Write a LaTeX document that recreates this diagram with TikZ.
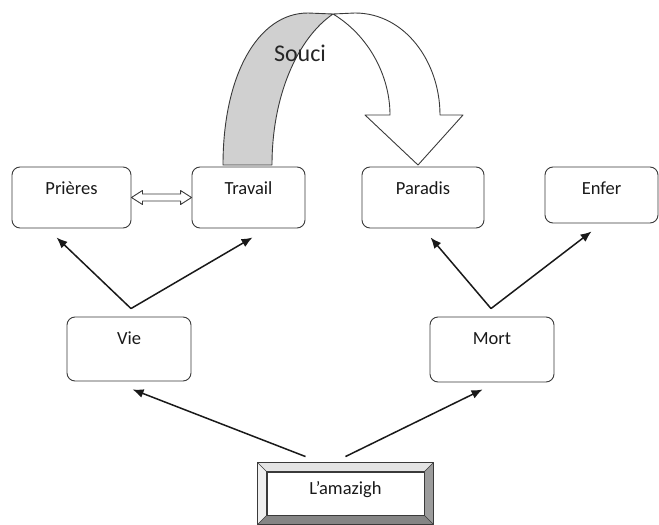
\documentclass[tikz,border=0pt]{standalone}
\usepackage{fontspec}
\setmainfont{Carlito}
\usetikzlibrary{arrows.meta,calc}
\definecolor{edge}{HTML}{3A3A3A}
\definecolor{facegray}{HTML}{D0D0D0}
\definecolor{bevellight}{HTML}{E4E4E4}
\definecolor{beveldark}{HTML}{9C9C9C}
\definecolor{bevelbottom}{HTML}{858585}
\begin{document}
\begin{tikzpicture}[x=1pt,y=-1pt,
        box/.style={draw=edge,line width=0.9pt,rounded corners=8pt,fill=white,
            inner xsep=0pt,inner ysep=7pt,text height=20pt,text depth=27pt,
            font=\fontsize{18.5}{21}\selectfont,text=black!90},
        arr/.style={-{Latex[length=11pt,width=9pt]},line width=1.5pt,draw=black!90},
        shape line/.style={draw=edge,line width=0.9pt,line join=round}]
        \useasboundingbox (0,0) rectangle (659,525);
        \path (71.5,194) node [box,anchor=base,minimum width=119pt] (pri) {Prières};
        \path (248.5,194) node [box,anchor=base,minimum width=113pt] (tra) {Travail};
        \path (423,194) node [box,anchor=base,minimum width=122pt] (par) {Paradis};
        \path (601.5,194) node [box,anchor=base,minimum width=113pt,text depth=22pt] (enf) {Enfer};
        \path (129,344) node [box,anchor=base,minimum width=124pt,text depth=30pt] (vie) {Vie};
        \path (492,344) node [box,anchor=base,minimum width=124pt,text depth=31pt] (mort) {Mort};
        \path (345.5,494) node [draw=edge,line width=0.9pt,fill=white,anchor=base,
            minimum width=157pt,inner xsep=0pt,inner ysep=0pt,text height=22pt,text depth=21pt,
            font=\fontsize{18.5}{21}\selectfont,text=black!90] (ama) {L’amazigh};
        \fill [bevellight] ($(ama.north west)+(-9,-9)$) -- ($(ama.north east)+(9,-9)$)
            -- (ama.north east) -- (ama.north west) -- cycle;
        \fill [bevellight!60] ($(ama.north west)+(-9,-9)$) -- (ama.north west)
            -- (ama.south west) -- ($(ama.south west)+(-9,9)$) -- cycle;
        \fill [beveldark] ($(ama.north east)+(9,-9)$) -- ($(ama.south east)+(9,9)$)
            -- (ama.south east) -- (ama.north east) -- cycle;
        \fill [bevelbottom] ($(ama.south west)+(-9,9)$) -- ($(ama.south east)+(9,9)$)
            -- (ama.south east) -- (ama.south west) -- cycle;
        \draw [shape line] ($(ama.north west)+(-9,-9)$) rectangle ($(ama.south east)+(9,9)$);
        \draw [shape line,line width=0.6pt] ($(ama.north west)+(-9,-9)$) -- (ama.north west)
            ($(ama.north east)+(9,-9)$) -- (ama.north east)
            ($(ama.south west)+(-9,9)$) -- (ama.south west)
            ($(ama.south east)+(9,9)$) -- (ama.south east);
        \draw [shape line] (ama.north west) rectangle (ama.south east);
        \draw [shape line,fill=white] (pri.east) -- ++(11,-7) -- ++(0,3.5) -- ($(tra.west)+(-11,-3.5)$)
            -- ++(0,-3.5) -- (tra.west) -- ++(-11,7) -- ++(0,-3.5) -- ($(pri.east)+(11,3.5)$)
            -- ++(0,3.5) -- cycle;
        \coordinate (viej) at ($(vie.north)+(2,-8)$);
        \coordinate (mortj) at ($(mort.north)+(-1,-8)$);
        \coordinate (amal) at ($(ama.north)+(-40,-15)$);
        \coordinate (amar) at ($(ama.north)+(0,-15)$);
        \draw [arr] (viej) -- ($(pri.south west)+(45,9)$);
        \draw [arr] (viej) -- ($(tra.south west)+(61,9)$);
        \draw [arr] (mortj) -- ($(par.south west)+(69,9)$);
        \draw [arr] (mortj) -- ($(enf.south west)+(47,8)$);
        \draw [arr] (amal) -- ($(vie.south west)+(66,8)$);
        \draw [arr] (amar) -- ($(mort.south west)+(53,7)$);
        \draw [shape line,fill=facegray] (223,165) .. controls (223,75) and (258,13) .. (308,13)
            -- (333,14) .. controls (298,38) and (272,95) .. (272,165) -- cycle;
        \draw [shape line,fill=white] (333,14) -- (355,13) .. controls (405,13) and (440,62) .. (440,115)
            -- (463,115) -- (418,165) -- (365,115) -- (390,115)
            .. controls (390,75) and (368,35) .. (333,14) -- cycle;
        \path (300,53) node [font=\fontsize{24}{27}\selectfont,text=black!85] (souci) {Souci};
    \end{tikzpicture}
\end{document}
